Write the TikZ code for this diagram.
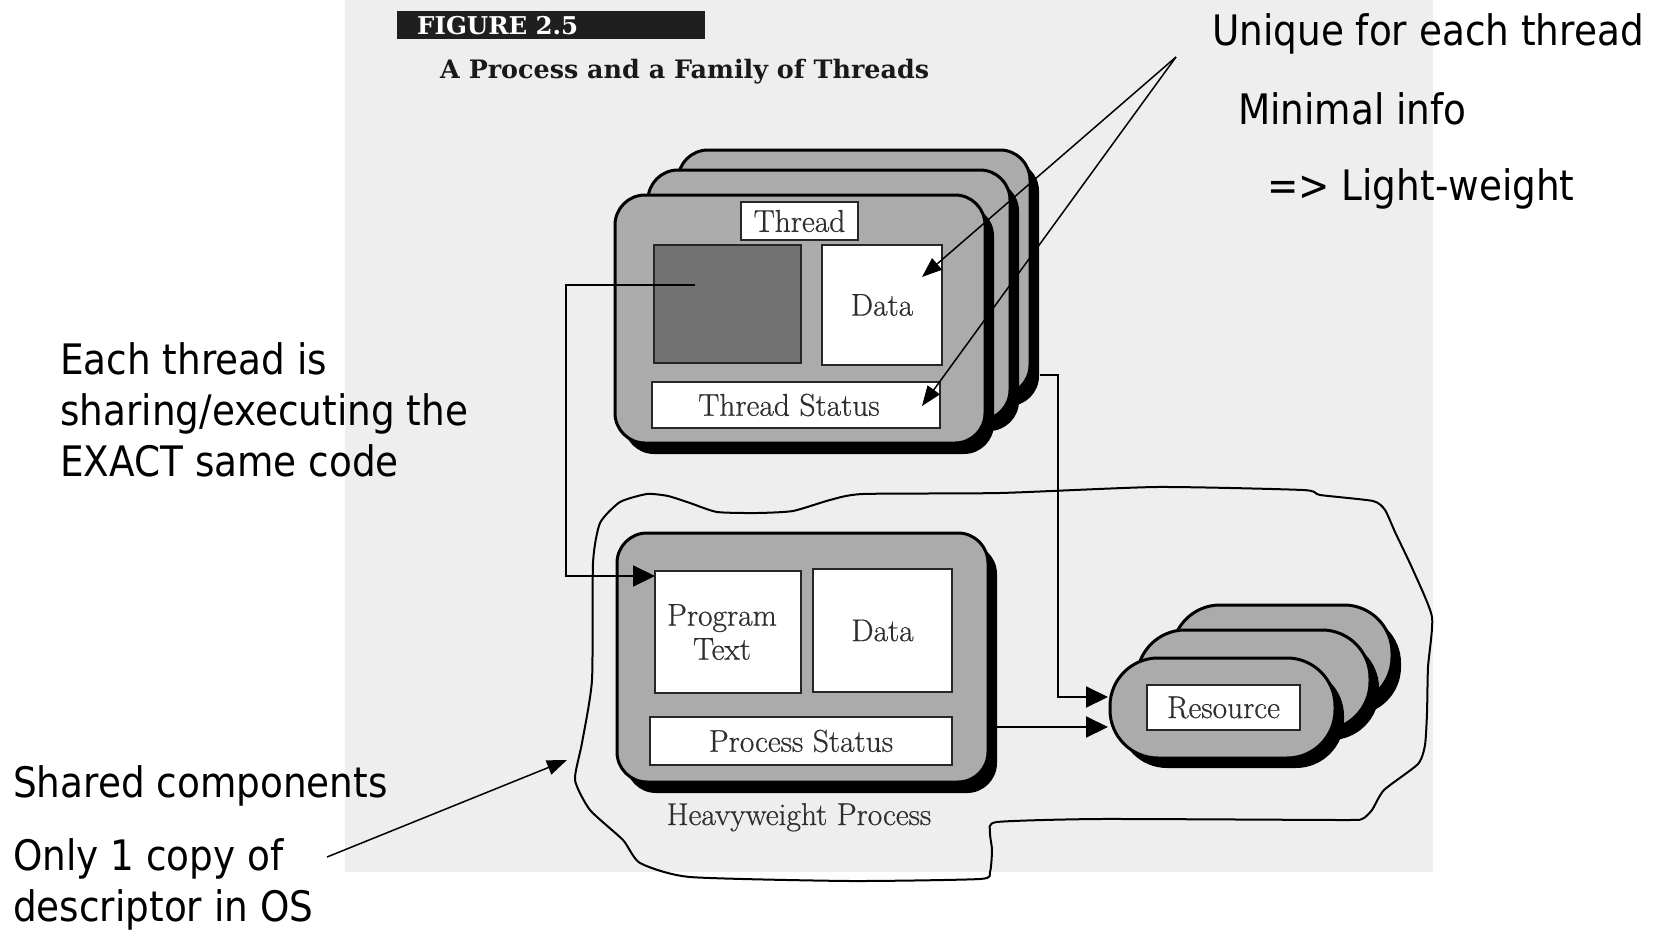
\documentclass[tikz,border=0pt]{standalone}
\usepackage{fontspec}
\newfontfamily\annfont[FakeStretch=0.89]{DejaVu Sans}
\newfontfamily\figfont[FakeBold=0.6]{Latin Modern Roman}
\newfontfamily\headfont{DejaVu Serif}
\usetikzlibrary{arrows.meta,shadows,calc}
\definecolor{pagebg}{HTML}{EEEEEE}
\definecolor{boxgray}{HTML}{ABABAB}
\definecolor{codegray}{HTML}{727272}
\definecolor{labeltext}{HTML}{2E2E2E}
\tikzset{
  outerbox/.style={draw=black, line width=3pt, fill=boxgray, rounded corners=30pt,
    general shadow={fill=black, shadow xshift=9pt, shadow yshift=-11pt},
    anchor=north west, inner sep=0pt, outer sep=0pt},
  pillbox/.style={draw=black, line width=3pt, fill=boxgray, rounded corners=48pt,
    general shadow={fill=black, shadow xshift=9pt, shadow yshift=-10pt},
    anchor=north west, inner sep=0pt, outer sep=0pt, minimum height=100pt},
  inbox/.style={draw=black!85, line width=2.5pt, fill=white, inner sep=0pt, outer sep=0pt,
    anchor=north west, font=\figfont\fontsize{31.5}{34}\selectfont, text=labeltext, align=center},
  figlabel/.style={font=\figfont\fontsize{31.5}{34}\selectfont, text=labeltext},
  anntext/.style={font=\annfont\fontsize{42}{51}\selectfont, text=black, inner sep=0pt, align=left},
  conn/.style={draw=black, line width=2pt, -{Triangle[length=22pt,width=21pt]}},
  annarrow/.style={draw=black, line width=1.5pt, -{Triangle[length=20pt,width=15pt]}},
  freehand/.style={draw=black, line width=2pt},
}
\begin{document}
\begin{tikzpicture}[x=1pt,y=-1pt]
\useasboundingbox (0,0) rectangle (1655,934);
\fill[white] (0,0) rectangle (1655,934);
\fill[pagebg] (345,0) rectangle (1433,872);

% header
\node[fill=black!88, anchor=north west, minimum width=308pt, minimum height=28pt, inner sep=0pt,
  text=white, font=\headfont\bfseries\fontsize{24.5}{26}\selectfont, text width=288pt, align=left] (fighead) at (397,11) {\hspace*{10pt}FIGURE 2.5};
\node[anchor=base west, inner sep=0pt, text=black!90, font=\headfont\bfseries\fontsize{25.4}{28}\selectfont] (figtitle) at (440,79) {A Process and a Family of Threads};

% connector end points behind boxes
\coordinate (thrOut) at (1040,375);
\coordinate (codeTap) at (695,285);

% thread stack
\node[outerbox, minimum width=352pt, minimum height=245pt] (thrBack) at (678,150) {};
\node[outerbox, minimum width=362pt, minimum height=250pt] (thrMid) at (648,170) {};
\node[outerbox, minimum width=370pt, minimum height=248pt] (thrFront) at (615,195) {};
\node[inbox, minimum width=117pt, minimum height=38pt] (thrLabel) at (741,202) {Thread};
\node[inbox, fill=codegray, minimum width=147pt, minimum height=118pt] (codeSq) at (654,245) {};
\node[inbox, minimum width=120pt, minimum height=120pt] (thrData) at (822,245) {Data};
\node[inbox, minimum width=288pt, minimum height=46pt] (thrStatus) at (652,382) {Thread Status\hspace*{14pt}};

% heavyweight process
\node[outerbox, minimum width=371pt, minimum height=249pt] (hw) at (617,533) {};
\node[inbox, minimum width=146pt, minimum height=122pt] (progText) at (655,571) {Program\hspace*{12pt}\\Text\hspace*{12pt}};
\node[inbox, minimum width=139pt, minimum height=123pt] (procData) at (813,569) {Data};
\node[inbox, minimum width=302pt, minimum height=48pt] (procStatus) at (650,717) {Process Status};
\node[figlabel, anchor=base, inner sep=0pt] (hwLabel) at (799,825) {Heavyweight Process};

% resources
\node[pillbox, minimum width=220pt] (resBack) at (1172,605) {};
\node[pillbox, minimum width=233pt] (resMid) at (1137,630) {};
\node[pillbox, minimum width=225pt] (resFront) at (1110,658) {};
\node[inbox, minimum width=153pt, minimum height=45pt] (resBox) at (1147,685) {Resource};

% connectors
\coordinate (tipA) at ($(resFront.west)+(-2,-11)$);
\coordinate (tipB) at ($(resFront.west)+(-2,19)$);
\draw[conn] (codeTap) -- (566,285) |- ($(progText.north west)+(0,5)$);
\draw[conn] (thrOut) -- (1058,375) |- (tipA);
\draw[conn] (hw.east |- tipB) -- (tipB);

% freehand outline of shared components
\draw[freehand] plot[smooth cycle, tension=0.35] coordinates {
 (647,494) (668,496) (690,503) (717,512) (757,513) (793,511) (830,500) (863,494)
 (1000,493) (1157,487) (1303,490) (1320,495) (1373,501) (1385,510) (1395,532)
 (1413,570) (1432,617) (1428,667) (1427,713) (1425,745) (1418,764) (1384,790)
 (1372,810) (1362,819) (1340,820) (1100,819) (997,822) (990,832) (992,850)
 (990,872) (980,879) (850,881) (690,877) (640,863) (623,840) (590,810)
 (575,780) (582,743) (592,680) (593,563) (600,523) (620,502)};

% annotations
\node[anntext, anchor=base west] (unique) at (1212,46) {Unique for each thread};
\node[anntext, anchor=base west] (minimal) at (1238,124) {Minimal info};
\node[anntext, anchor=base west] (light) at (1267,200) {=> Light-weight};
\node[anntext, anchor=base west] (eachThr) at (60,476) {Each thread is\\sharing/executing the\\EXACT same code};
\node[anntext, anchor=base west] (shared) at (13,797) {Shared components};
\node[anntext, anchor=base west] (onlyOne) at (13,921) {Only 1 copy of\\descriptor in OS};

\coordinate (uniqueFork) at (1176,57);
\coordinate (onlyTail) at (327,857);
\coordinate (curveTip) at (567,760);
\draw[annarrow] (uniqueFork) -- ($(thrData.center)+(40,-28)$);
\draw[annarrow] (uniqueFork) -- ($(thrStatus.center)+(126,1)$);
\draw[annarrow] (onlyTail) -- (curveTip);
\end{tikzpicture}
\end{document}
